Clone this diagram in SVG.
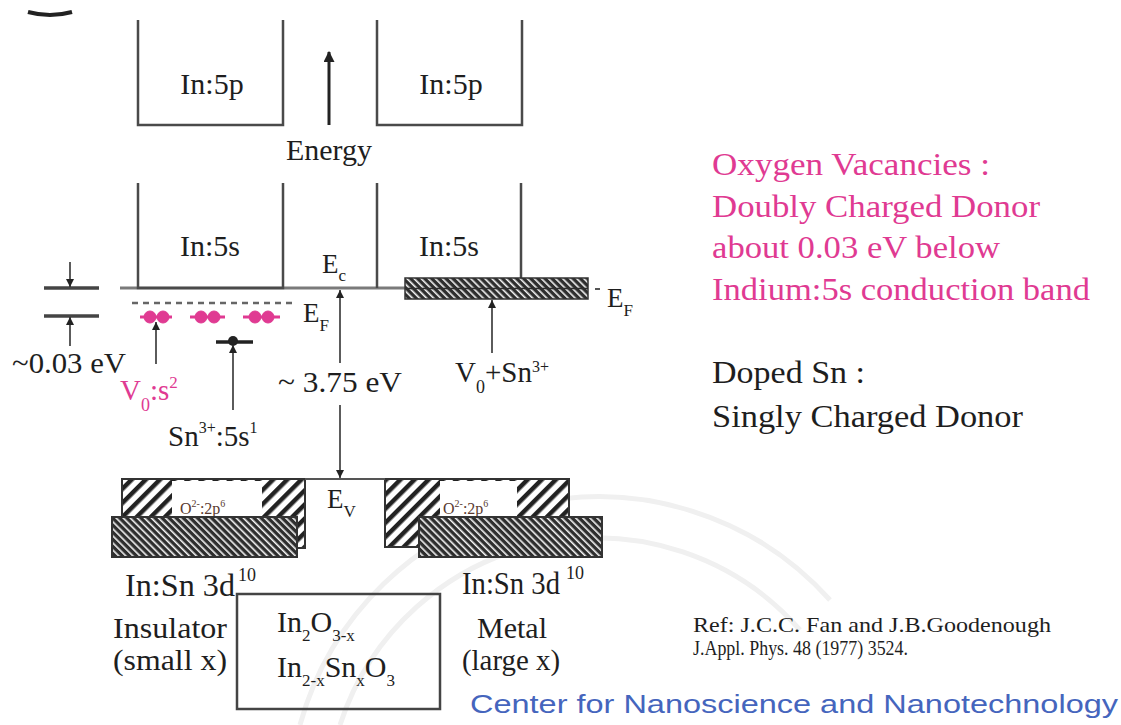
<svg xmlns="http://www.w3.org/2000/svg" width="1121" height="725" viewBox="0 0 1121 725">
<style>
.t{font-family:"Liberation Serif","Times New Roman","DejaVu Serif",serif;fill:#1e1e1e}
.p{font-family:"Liberation Serif","Times New Roman","DejaVu Serif",serif;fill:#e03a92}
.o{font-family:"Liberation Serif","Times New Roman","DejaVu Serif",serif;fill:#5a3a30;font-size:16px}
.band{fill:none;stroke:#4a4a4a;stroke-width:2.5}
.ar{stroke:#333;stroke-width:1.6;fill:none;marker-end:url(#ah)}
.lvl{stroke:#444;stroke-width:3.5}
.box{stroke:#333;stroke-width:2}
</style>
<defs>
<marker id="ah" viewBox="0 0 8 8" refX="8" refY="4" markerWidth="8" markerHeight="8" markerUnits="userSpaceOnUse" orient="auto"><path d="M0,0 L8,4 L0,8 z" fill="#222"/></marker>
<marker id="ahbig" viewBox="0 0 10 10" refX="9" refY="5" markerWidth="11" markerHeight="11" markerUnits="userSpaceOnUse" orient="auto"><path d="M0,0 L10,5 L0,10 z" fill="#222"/></marker>
<pattern id="wide" width="10" height="10" patternUnits="userSpaceOnUse" patternTransform="rotate(45)"><rect width="10" height="10" fill="#fff"/><rect width="4.5" height="10" fill="#222"/></pattern>
<pattern id="fine" width="5" height="5" patternUnits="userSpaceOnUse" patternTransform="rotate(-45)"><rect width="5" height="5" fill="#2e2e2e"/><rect width="1.6" height="5" fill="#f4f4f4"/></pattern>
</defs>
<rect width="1121" height="725" fill="#fff"/>
<g id="watermark" fill="none" stroke="#f0f0f0" stroke-width="5">
<path d="M300,725 A310,310 0 0 1 830,600"/>
<path d="M340,725 A270,270 0 0 1 800,630"/>
</g>
<path d="M28,12 Q50,18 72,12" stroke="#222" stroke-width="4" fill="none"/>
<g font-family="Liberation Serif, Times New Roman, DejaVu Serif, serif">
<g id="in5p-left"><path class="band" d="M138,20 V125 H283 V20"/><text class="t" x="212" y="94" font-size="30" text-anchor="middle">In:5p</text></g>
<g id="in5p-right"><path class="band" d="M377,20 V125 H522 V20"/><text class="t" x="451" y="94" font-size="30" text-anchor="middle">In:5p</text></g>
<g id="energy"><line x1="329" y1="125" x2="329" y2="52" stroke="#222" stroke-width="3" marker-end="url(#ahbig)"/><text class="t" x="286" y="160" font-size="29" textLength="86" lengthAdjust="spacingAndGlyphs">Energy</text></g>
<g id="ec-line"><line x1="120" y1="288" x2="405" y2="288" stroke="#7a7a7a" stroke-width="3"/></g>
<g id="in5s-left"><path class="band" d="M138,183 V288 H283 V183" stroke="#333"/><text class="t" x="210" y="256" font-size="30" text-anchor="middle">In:5s</text></g>
<g id="in5s-right"><path class="band" d="M377,183 V288 M521,183 V278"/><text class="t" x="449" y="256" font-size="30" text-anchor="middle">In:5s</text></g>
<g id="ec-label"><text class="t" x="322" y="273" font-size="27">E<tspan font-size="17" dy="8">c</tspan></text></g>
<g id="ef-left"><line x1="132" y1="303" x2="293" y2="303" stroke="#666" stroke-width="2.5" stroke-dasharray="6 5"/><text class="t" x="303" y="322" font-size="27">E<tspan font-size="17" dy="9">F</tspan></text></g>
<g id="vo-levels" fill="#e03a92" stroke="#e03a92">
<line x1="140" y1="317" x2="172" y2="317" stroke-width="3"/><circle cx="150" cy="317" r="6"/><circle cx="163" cy="317" r="6"/>
<line x1="190" y1="317" x2="225" y2="317" stroke-width="3"/><circle cx="201" cy="317" r="6"/><circle cx="214" cy="317" r="6"/>
<line x1="243" y1="317" x2="280" y2="317" stroke-width="3"/><circle cx="255" cy="317" r="6"/><circle cx="268" cy="317" r="6"/>
</g>
<g id="sn-level"><line x1="216" y1="342" x2="253" y2="342" stroke="#222" stroke-width="3.5"/><circle cx="233" cy="341" r="5" fill="#222"/></g>
<g id="gap-bracket"><line class="lvl" x1="44" y1="288" x2="99" y2="288"/><line class="lvl" x1="44" y1="316" x2="99" y2="316"/></g>
<g id="cb-metal"><rect x="405" y="278" width="183" height="21" fill="url(#fine)" stroke="#333" stroke-width="1.5"/><line x1="405" y1="288.5" x2="588" y2="288.5" stroke="#2e2e2e" stroke-width="1.5"/>
<line x1="595" y1="289" x2="600" y2="289" stroke="#555" stroke-width="2"/><text class="t" x="607" y="307" font-size="27">E<tspan font-size="17" dy="9">F</tspan></text></g>
<g id="vb-left"><rect x="122" y="479" width="183" height="69" fill="url(#wide)" class="box"/><rect x="172" y="481" width="90" height="36" fill="#fff"/>
<text class="o" x="180" y="514">O<tspan font-size="10" dy="-7">2-</tspan><tspan dy="7">:2p</tspan><tspan font-size="10" dy="-7">6</tspan></text>
<rect x="112" y="517" width="185" height="40" fill="url(#fine)" class="box"/></g>
<g id="vb-right"><rect x="385" y="479" width="184" height="68" fill="url(#wide)" class="box"/><rect x="440" y="481" width="77" height="37" fill="#fff"/>
<text class="o" x="443" y="514">O<tspan font-size="10" dy="-7">2-</tspan><tspan dy="7">:2p</tspan><tspan font-size="10" dy="-7">6</tspan></text>
<rect x="419" y="517" width="183" height="40" fill="url(#fine)" class="box"/></g>
<g id="ev-line"><line x1="305" y1="479" x2="385" y2="479" stroke="#555" stroke-width="2"/><text class="t" x="327" y="508" font-size="27">E<tspan font-size="17" dy="9">V</tspan></text></g>
<g id="connectors">
<line class="ar" x1="70" y1="262" x2="70" y2="287"/>
<line class="ar" x1="70" y1="346" x2="70" y2="317"/>
<line class="ar" x1="156" y1="364" x2="156" y2="322"/>
<line class="ar" x1="233" y1="410" x2="233" y2="345"/>
<line class="ar" x1="340" y1="363" x2="340" y2="290"/>
<line class="ar" x1="340" y1="405" x2="340" y2="478"/>
<line class="ar" x1="492" y1="353" x2="492" y2="300"/>
</g>
<g id="labels-left">
<text class="t" x="12" y="373" font-size="29" textLength="114" lengthAdjust="spacingAndGlyphs">~0.03 eV</text>
<text class="p" x="120" y="400" font-size="29">V<tspan font-size="18" dy="11">0</tspan><tspan dy="-11">:s</tspan><tspan font-size="17" dy="-12">2</tspan></text>
<text class="t" x="168" y="446" font-size="29">Sn<tspan font-size="16" dy="-13">3+</tspan><tspan dy="13">:5s</tspan><tspan font-size="16" dy="-13">1</tspan></text>
<text class="t" x="278" y="392" font-size="29" textLength="124" lengthAdjust="spacingAndGlyphs">~ 3.75 eV</text>
<text class="t" x="455" y="382" font-size="29">V<tspan font-size="18" dy="11">0</tspan><tspan dy="-11">+Sn</tspan><tspan font-size="16" dy="-10">3+</tspan></text>
</g>
<g id="labels-3d">
<text class="t" x="125" y="596" font-size="31" textLength="110" lengthAdjust="spacingAndGlyphs">In:Sn 3d</text>
<text class="t" x="238" y="581" font-size="18">10</text>
<text class="t" x="462" y="594" font-size="31" textLength="98" lengthAdjust="spacingAndGlyphs">In:Sn 3d</text>
<text class="t" x="566" y="579" font-size="18">10</text>
</g>
<g id="formula-box"><rect x="237" y="594" width="203" height="115" fill="none" stroke="#444" stroke-width="2.5"/>
<text class="t" x="277" y="632" font-size="30">In<tspan font-size="17" dy="9">2</tspan><tspan dy="-9">O</tspan><tspan font-size="17" dy="9">3-x</tspan></text>
<text class="t" x="277" y="677" font-size="30">In<tspan font-size="17" dy="9">2-x</tspan><tspan dy="-9">Sn</tspan><tspan font-size="17" dy="9">x</tspan><tspan dy="-9">O</tspan><tspan font-size="17" dy="9">3</tspan></text>
</g>
<g id="insulator"><text class="t" x="113" y="638" font-size="30" textLength="114" lengthAdjust="spacingAndGlyphs">Insulator</text><text class="t" x="113" y="670" font-size="30" textLength="114" lengthAdjust="spacingAndGlyphs">(small x)</text></g>
<g id="metal"><text class="t" x="477" y="638" font-size="30" textLength="70" lengthAdjust="spacingAndGlyphs">Metal</text><text class="t" x="462" y="670" font-size="30" textLength="98" lengthAdjust="spacingAndGlyphs">(large x)</text></g>
<g id="notes">
<text class="p" x="712" y="175" font-size="31" textLength="278" lengthAdjust="spacingAndGlyphs">Oxygen Vacancies :</text>
<text class="p" x="712" y="217" font-size="31" textLength="328" lengthAdjust="spacingAndGlyphs">Doubly Charged Donor</text>
<text class="p" x="712" y="258" font-size="31" textLength="288" lengthAdjust="spacingAndGlyphs">about 0.03 eV below</text>
<text class="p" x="712" y="300" font-size="31" textLength="378" lengthAdjust="spacingAndGlyphs">Indium:5s conduction band</text>
<text class="t" x="712" y="383" font-size="31" textLength="153" lengthAdjust="spacingAndGlyphs">Doped Sn :</text>
<text class="t" x="712" y="427" font-size="31" textLength="311" lengthAdjust="spacingAndGlyphs">Singly Charged Donor</text>
</g>
<g id="ref">
<text class="t" x="693" y="632" font-size="22" textLength="358" lengthAdjust="spacingAndGlyphs">Ref: J.C.C. Fan and J.B.Goodenough</text>
<text class="t" x="693" y="655" font-size="22" textLength="215" lengthAdjust="spacingAndGlyphs">J.Appl. Phys. 48 (1977) 3524.</text>
</g>
</g>
<text x="470" y="713" font-size="26" font-family="Liberation Sans, Arial, sans-serif" fill="#4565bd" textLength="648" lengthAdjust="spacingAndGlyphs">Center for Nanoscience and Nanotechnology</text>
</svg>
